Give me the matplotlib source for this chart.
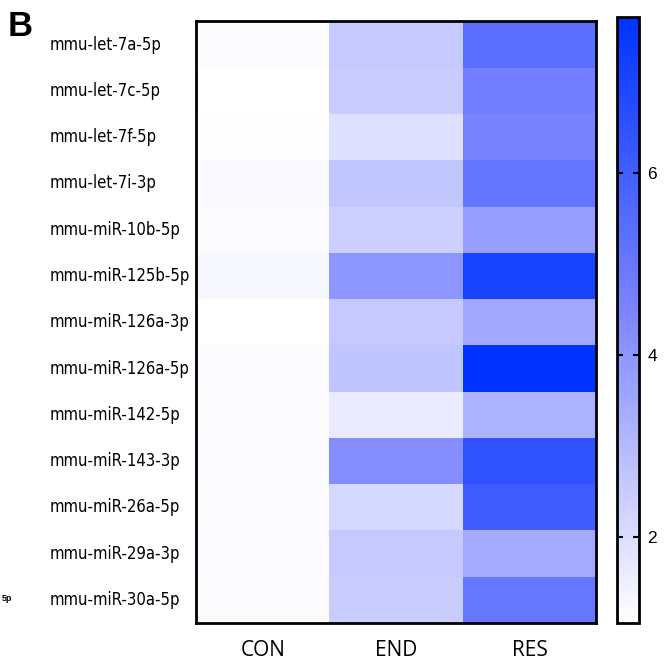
import numpy as np
import matplotlib
matplotlib.use("Agg")
import matplotlib.pyplot as plt
from matplotlib.colors import LinearSegmentedColormap

# miRNA names (rows) and groups (columns)
mirnas = ["mmu-let-7a-5p", "mmu-let-7c-5p", "mmu-let-7f-5p", "mmu-let-7i-3p",
          "mmu-miR-10b-5p", "mmu-miR-125b-5p", "mmu-miR-126a-3p", "mmu-miR-126a-5p",
          "mmu-miR-142-5p", "mmu-miR-143-3p", "mmu-miR-26a-5p", "mmu-miR-29a-3p",
          "mmu-miR-30a-5p"]
groups = ["CON", "END", "RES"]

# relative expression per group
con = [1.14, 1.06, 1.09, 1.24, 1.14, 1.29, 1.06, 1.19, 1.14, 1.19, 1.14, 1.19, 1.16]
end = [2.57, 2.49, 1.94, 2.65, 2.36, 4.00, 2.57, 2.70, 1.61, 4.21, 2.15, 2.57, 2.49]
res = [5.36, 4.78, 4.58, 5.10, 3.74, 7.08, 3.48, 7.70, 3.17, 6.45, 6.04, 3.43, 5.05]

cbar_ticks = [2, 4, 6]

data = np.column_stack([con, end, res])

cmap = LinearSegmentedColormap.from_list(
    "wb", [(0.0, "#ffffff"), (0.5, "#8088ff"), (1.0, "#0033ff")])

fig = plt.figure(figsize=(6.67, 6.64), dpi=100)
ax = fig.add_axes([0.294, 0.0617, 0.600, 0.906])
cax = fig.add_axes([0.925, 0.0617, 0.033, 0.912])

mesh = ax.pcolormesh(data, cmap=cmap, vmin=1.06, vmax=7.70)
ax.set_xlim(0, len(groups))
ax.set_ylim(len(mirnas), 0)

ax.set_xticks(np.arange(len(groups)) + 0.5)
ax.set_xticklabels(groups, fontsize=15, family=["Open Sans", "DejaVu Sans"])
ax.tick_params(axis="x", length=0, pad=12)
ax.set_yticks([])
for sp in ax.spines.values():
    sp.set_linewidth(2)

# row labels, left aligned
for i, name in enumerate(mirnas):
    ax.text(-1.095, i + 0.5, name, ha="left", va="center", fontsize=12,
            family=["DejaVu Sans"], stretch="condensed",
            transform=ax.transData, clip_on=False)

cb = fig.colorbar(mesh, cax=cax, ticks=cbar_ticks)
cb.outline.set_linewidth(2)
cax.tick_params(axis="y", direction="in", length=4, width=1.5, left=True,
                right=True, labelsize=12.5, pad=6)
for lab in cax.get_yticklabels():
    lab.set_family(["Liberation Sans", "DejaVu Sans"])

fig.text(0.012, 0.985, "B", fontsize=25, fontweight="bold", va="top",
         family=["Liberation Sans", "DejaVu Sans"])
fig.text(0.003, 0.099, "5p", fontsize=6.5, fontweight="bold", va="center",
         family=["Liberation Sans", "DejaVu Sans"])

fig.savefig("out.png", dpi=100)
